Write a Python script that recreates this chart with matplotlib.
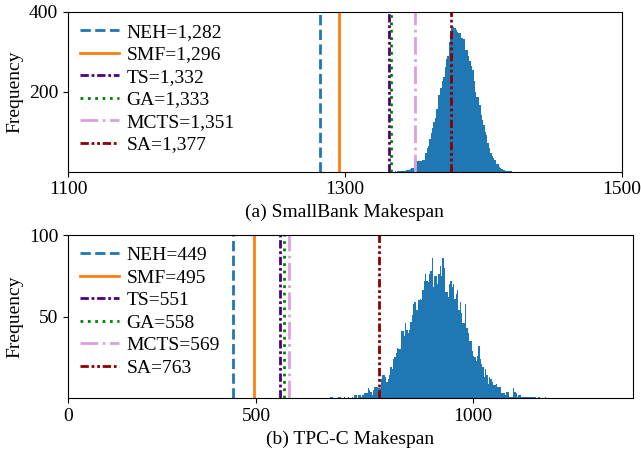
import numpy as np
import matplotlib.pyplot as plt

plt.rcParams['font.family'] = ['Liberation Serif', 'DejaVu Serif']
plt.rcParams['font.size'] = 14

# Vergleichswerte der Verfahren (Makespan)
methods = ['NEH', 'SMF', 'TS', 'GA', 'MCTS', 'SA']
sb_best = [1282, 1296, 1332, 1333, 1351, 1377]
tpcc_best = [449, 495, 551, 558, 569, 763]

colors = ['#1f77b4', '#ff7f0e', 'indigo', 'green', 'plum', 'darkred']
styles = ['--', '-', (0, (3, 1, 1, 1)), ':', '-.', (0, (3, 1, 1, 1, 1, 1))]

# SmallBank: Haeufigkeit je Makespan (Bins der Breite 1 ab 1336)
sb_start = 1336
sb_counts = [1, 0, 1, 1, 1, 1, 2, 2, 3, 3, 5, 6, 8, 9, 24, 26, 26, 26, 27, 27,
             28, 30, 47, 60, 65, 82, 96, 110, 124, 134, 158, 192, 192, 209, 227,
             237, 263, 282, 290, 324, 340, 362, 362, 360, 355, 349, 347, 347, 335,
             333, 333, 305, 305, 290, 278, 265, 254, 227, 200, 187, 187, 168, 143,
             130, 116, 100, 92, 73, 60, 48, 40, 35, 30, 20, 18, 12, 10, 6, 4, 3,
             2, 2, 1, 1, 1]

# TPC-C: Haeufigkeit je Bin (Breite ~2.855 ab 655.2)
tpcc_start = 655.2
tpcc_width = 2.855
tpcc_counts = [0, 1, 1, 0, 0, 0, 0, 1, 1, 0, 0, 1, 0, 0, 1, 0, 0, 1, 0, 2,
               2, 0, 2, 2, 1, 2, 3, 3, 3, 6, 5, 4, 2, 5, 7, 7, 7, 6, 6, 12,
               14, 14, 13, 10, 12, 14, 19, 18, 24, 25, 28, 31, 30, 30, 41, 41, 38, 46, 42, 40,
               42, 47, 51, 58, 59, 54, 54, 60, 61, 60, 66, 72, 76, 72, 71, 76, 78, 86, 68, 75,
               75, 70, 76, 81, 75, 86, 80, 65, 65, 62, 70, 72, 68, 70, 61, 64, 66, 54, 59, 52,
               46, 46, 58, 43, 40, 35, 35, 29, 26, 25, 23, 26, 32, 24, 21, 19, 13, 18, 14, 9,
               13, 12, 10, 8, 8, 9, 7, 7, 7, 3, 3, 3, 2, 4, 4, 1, 1, 1, 6, 4,
               3, 1, 2, 2, 1, 1, 1, 1, 1, 1, 1, 1, 1, 1, 1, 0, 0, 1, 0, 0,
               0, 0, 1]

sb_edges = sb_start + np.arange(len(sb_counts) + 1)
sb_mid = sb_edges[:-1] + 0.5
tp_edges = tpcc_start + tpcc_width * np.arange(len(tpcc_counts) + 1)
tp_mid = tp_edges[:-1] + tpcc_width / 2

fig = plt.figure(figsize=(6.41, 4.49), dpi=100)
ax1 = fig.add_axes([0.1061, 0.6176, 0.8639, 0.3563])
ax2 = fig.add_axes([0.1061, 0.1131, 0.8814, 0.3635])

ax1.hist(sb_mid, bins=sb_edges, weights=sb_counts, color='#1f77b4')
for m, v, c, ls in zip(methods, sb_best, colors, styles):
    ax1.axvline(v, color=c, linestyle=ls, lw=2, label=f'{m}={v:,}')
ax1.set_xlim(1100, 1500)
ax1.set_ylim(0, 400)
ax1.set_xticks([1100, 1300, 1500])
ax1.set_yticks([200, 400])
ax1.set_ylabel('Frequency')
ax1.set_xlabel('(a) SmallBank Makespan')
ax1.legend(loc='upper left', frameon=False, handlelength=2, labelspacing=0.25,
           handletextpad=0.4, borderaxespad=0.2)

ax2.hist(tp_mid, bins=tp_edges, weights=tpcc_counts, color='#1f77b4')
for m, v, c, ls in zip(methods, tpcc_best, colors, styles):
    ax2.axvline(v, color=c, linestyle=ls, lw=2, label=f'{m}={v:,}')
ax2.set_xlim(96.3, 1306.4)
ax2.set_ylim(0, 100)
ax2.set_xticks([96.9, 498.9, 963.0], ['0', '500', '1000'])
ax2.set_yticks([50, 100])
ax2.set_ylabel('Frequency')
ax2.set_xlabel('(b) TPC-C Makespan')
ax2.legend(loc='upper left', frameon=False, handlelength=2, labelspacing=0.25,
           handletextpad=0.4, borderaxespad=0.2)

fig.savefig('out.png', dpi=100)
